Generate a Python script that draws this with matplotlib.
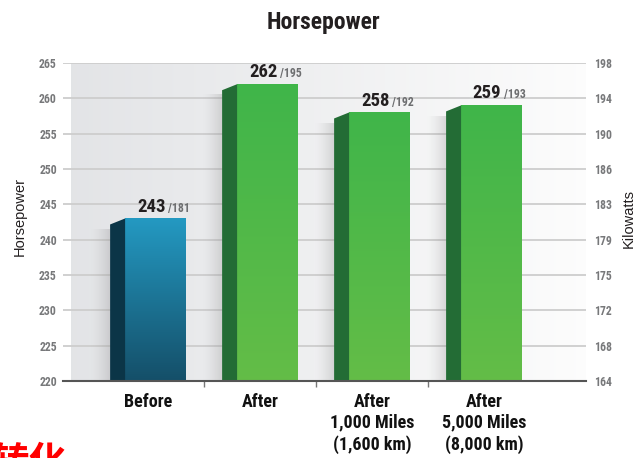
import numpy as np
import matplotlib
matplotlib.use("Agg")
import matplotlib.pyplot as plt
from matplotlib.patches import Polygon
from matplotlib import font_manager as fm

categories = ["Before", "After", "After\n1,000 Miles\n(1,600 km)", "After\n5,000 Miles\n(8,000 km)"]
hp_values = [243, 262, 258, 259]
kw_values = [181, 195, 192, 193]
hp_ticks = [220, 225, 230, 235, 240, 245, 250, 255, 260, 265]
kw_tick_labels = ["164", "168", "172", "175", "179", "183", "186", "190", "194", "198"]

names = {f.name for f in fm.fontManager.ttflist}
COND = "Roboto Condensed" if "Roboto Condensed" in names else "DejaVu Sans"
REG = "Liberation Sans" if "Liberation Sans" in names else "DejaVu Sans"
plt.rcParams['font.family'] = [COND, 'DejaVu Sans']

fig = plt.figure(figsize=(6.37, 4.58), dpi=100)
W, H = 637, 458
ax = fig.add_axes([63 / W, 1 - 381 / H, (586 - 63) / W, (381 - 63) / H])
XL = (-0.76, 3.91)
ax.set_xlim(*XL)
ax.set_ylim(220, 265)
ppx = (XL[1] - XL[0]) / (586 - 63)  # data units per pixel (x)
ppy = 45 / (381 - 63)

# background gradient
bg = np.linspace(0, 1, 256)[None, :]
c0 = np.array([0.89, 0.895, 0.905]); c1 = np.array([0.99, 0.99, 0.99])
img = c0[None, None, :] * (1 - bg[..., None]) + c1[None, None, :] * bg[..., None]
ax.imshow(img, extent=(XL[0] + 8 * ppx, XL[1], 220, 265), aspect='auto', zorder=0)

for t in hp_ticks[1:]:
    ax.axhline(t, color='#cdcdcd', lw=1.3, zorder=1)

side_w = 15 * ppx
front_w = 61 * ppx
half = (side_w + front_w) / 2
slant = 6 * ppy

for i, (hp, kw) in enumerate(zip(hp_values, kw_values)):
    xl = i - half
    xf = xl + side_w
    xr = i + half
    if i == 0:
        top_c = np.array([0.14, 0.60, 0.76]); bot_c = np.array([0.08, 0.31, 0.41])
        side_c = '#0b3547'
    else:
        top_c = np.array([0.25, 0.71, 0.29]); bot_c = np.array([0.39, 0.74, 0.28])
        side_c = '#236c35'
    # shadow
    sh = np.zeros((2, 64, 4))
    sh[..., :3] = 0.5
    sh[..., 3] = np.linspace(0, 0.4, 64)[None, :] ** 1.5
    ax.imshow(sh, extent=(xl - 20 * ppx, xl, 220, hp - 1.5), aspect='auto', zorder=2)
    # front gradient
    g = np.linspace(0, 1, 128)[:, None]
    fimg = top_c[None, None, :] * (1 - g[..., None]) + bot_c[None, None, :] * g[..., None]
    fimg = np.repeat(fimg, 2, axis=1)
    ax.imshow(fimg, extent=(xf, xr, 220, hp), aspect='auto', zorder=3)
    ax.add_patch(Polygon([(xl, 220), (xl, hp - slant), (xf, hp), (xf, 220)],
                         closed=True, facecolor=side_c, edgecolor='none', zorder=3))
    cx = (xf + xr) / 2 + 0.1
    ax.annotate(str(hp), (cx, hp), xytext=(-1, 5), textcoords='offset points',
                ha='right', va='baseline', fontsize=13.5, fontweight='bold', color='#231f20', zorder=5)
    ax.annotate("/" + str(kw), (cx, hp), xytext=(1, 5), textcoords='offset points',
                ha='left', va='baseline', fontsize=8.5, fontweight='bold', color='#6d6e70', zorder=5)

ax.set_xlim(*XL)
ax.set_ylim(220, 265)

for s in ['top', 'left', 'right']:
    ax.spines[s].set_visible(False)
ax.spines['bottom'].set_color('#555555')
ax.spines['bottom'].set_linewidth(1.5)
ax.spines['bottom'].set_zorder(6)

ax.set_xticks([0.5, 1.5, 2.5], minor=True)
ax.tick_params(axis='x', which='minor', length=4, color='#777777', width=1)
ax.set_xticks(range(len(categories)))
ax.set_xticklabels(categories, fontsize=13, fontweight='bold', color='#111111', linespacing=1.22)
ax.tick_params(axis='x', which='major', length=0, pad=8.5)

ax.set_yticks(hp_ticks)
ax.set_yticklabels([str(t) for t in hp_ticks], fontsize=8.5, fontweight='bold', color='#77787a')
ax.tick_params(axis='y', length=0, pad=4.5)

ax2 = ax.twinx()
ax2.set_ylim(220, 265)
ax2.set_yticks(hp_ticks)
ax2.set_yticklabels(kw_tick_labels, fontsize=8.5, fontweight='bold', color='#77787a')
ax2.tick_params(axis='y', length=0, pad=6)
for s in ['top', 'left', 'right', 'bottom']:
    ax2.spines[s].set_visible(False)

fig.text(20 / W, 1 - 216 / H, "Horsepower", rotation=90, ha='center', va='center',
         fontsize=10.5, color='#231f20', family=[REG, 'DejaVu Sans'])
fig.text(629 / W, 1 - 218 / H, "Kilowatts", rotation=90, ha='center', va='center',
         fontsize=10.5, color='#231f20', family=[REG, 'DejaVu Sans'])

fig.text(323 / W, 1 - 22 / H, "Horsepower", ha='center', va='center', fontsize=17,
         fontweight='bold', color='#231f20')

fig.text(-0.012, 1 - 443 / H, "转化", ha='left', va='top', fontsize=27, fontweight='bold',
         color='#ff0000', family=['Noto Sans CJK SC', 'DejaVu Sans'])

fig.savefig("out.png", dpi=100)
